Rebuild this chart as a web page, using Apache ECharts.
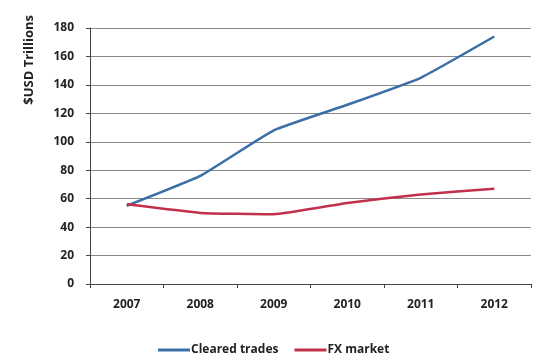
<!DOCTYPE html>
<html>
<head>
<meta charset="utf-8">
<script src="https://cdn.jsdelivr.net/npm/echarts@6/dist/echarts.min.js"></script>
<style>
  html, body { margin: 0; padding: 0; background: #fff; }
  #chart { width: 537px; height: 358px; }
</style>
</head>
<body>
<div id="chart"></div>
<script>
// Years on the category axis
const years = ['2007', '2008', '2009', '2010', '2011', '2012'];
// Notional values, $USD trillions
const clearedTrades = [55, 76, 108, 126, 145, 174];
const fxMarket = [56, 50, 49, 57, 63, 67];
// Value axis range
const yMin = 0, yMax = 180, yStep = 20;

const font = '"Open Sans", "Liberation Sans", sans-serif';
const chart = echarts.init(document.getElementById('chart'));
chart.setOption({
  animation: false,
  grid: { left: 90, right: 6, top: 28, bottom: 74 },
  legend: {
    top: 344,
    left: 158,
    padding: 0,
    icon: 'rect',
    itemWidth: 32,
    itemHeight: 3,
    itemGap: 16,
    textStyle: { fontFamily: font, fontSize: 12, fontWeight: 'bold', color: '#222', padding: [0, 0, 0, -4] },
    data: ['Cleared trades', 'FX market']
  },
  xAxis: {
    type: 'category',
    data: years,
    boundaryGap: true,
    axisLine: { lineStyle: { color: '#444', width: 1 } },
    axisTick: { show: true, length: 4, lineStyle: { color: '#444' } },
    axisLabel: { fontFamily: font, fontSize: 12, fontWeight: 'bold', color: '#222', margin: 15 }
  },
  yAxis: {
    type: 'value',
    min: yMin, max: yMax, interval: yStep,
    axisLine: { show: true, lineStyle: { color: '#444', width: 1 } },
    axisTick: { show: true, length: 4, lineStyle: { color: '#444' } },
    splitLine: { lineStyle: { color: '#8a8a8a', width: 1 } },
    axisLabel: { fontFamily: font, fontSize: 12, fontWeight: 'bold', color: '#222', margin: 16 }
  },
  graphic: [{
    type: 'text',
    rotation: Math.PI / 2,
    x: 23, y: 15,
    style: {
      text: '$USD Trillions',
      font: 'bold 13px ' + font,
      fill: '#222',
      textAlign: 'right',
      textVerticalAlign: 'top'
    }
  }],
  series: [
    {
      name: 'Cleared trades',
      type: 'line',
      data: clearedTrades,
      symbol: 'none',
      smooth: 0.12,
      lineStyle: { color: '#3c6ea6', width: 2.5 },
      itemStyle: { color: '#3c6ea6' }
    },
    {
      name: 'FX market',
      type: 'line',
      data: fxMarket,
      symbol: 'none',
      smooth: 0.12,
      lineStyle: { color: '#c2304c', width: 2.5 },
      itemStyle: { color: '#c2304c' }
    }
  ]
});
</script>
</body>
</html>
